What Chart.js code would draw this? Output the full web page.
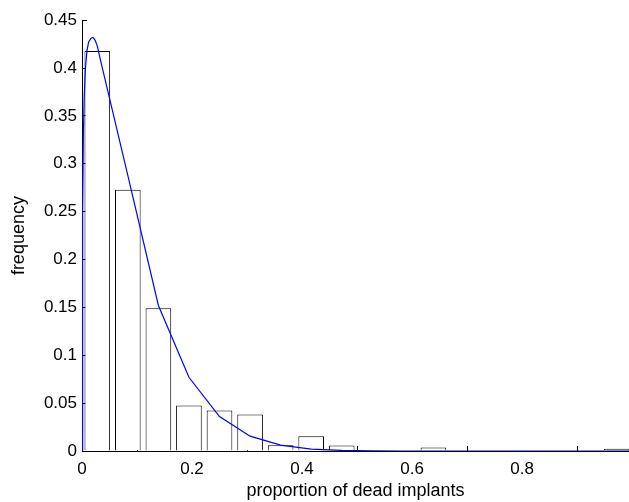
<!DOCTYPE html>
<html>
<head>
<meta charset="utf-8">
<script src="https://cdn.jsdelivr.net/npm/chart.js@4/dist/chart.umd.min.js"></script>
<style>
  html, body { margin: 0; padding: 0; overflow: hidden; background: #fff; }
  #wrap { width: 629px; height: 502px; }
</style>
</head>
<body>
<div id="wrap"><canvas id="c" width="629" height="502"></canvas></div>
<script>
// Histogram bins (centres) and relative frequencies
const binCenters = [0.0278, 0.0833, 0.1389, 0.1944, 0.25, 0.3056, 0.3611, 0.4167, 0.4722,
                    0.5278, 0.5833, 0.6389, 0.6944, 0.75, 0.8056, 0.8611, 0.9167, 0.9722];
const frequencies = [0.4177, 0.273, 0.149, 0.0475, 0.0423, 0.038, 0.006, 0.0153, 0.0057,
                     0, 0, 0.0036, 0, 0, 0, 0, 0, 0.0023];

// Fitted density curve (scaled)
const curveX = [0, 0.0008, 0.0015, 0.0025, 0.004, 0.006, 0.009, 0.012, 0.016, 0.02, 0.024,
                0.0278, 0.035, 0.0833, 0.1389, 0.1944, 0.25, 0.3056, 0.3611, 0.4167, 0.4722,
                0.5278, 0.5833, 0.7, 0.8, 0.9, 1.0];
const curveY = [0, 0.15, 0.25, 0.33, 0.37, 0.398, 0.418, 0.427, 0.431, 0.432, 0.429,
                0.423, 0.405, 0.288, 0.152, 0.077, 0.036, 0.0155, 0.0062, 0.002, 0.0006,
                0.0001, 0, 0, 0, 0, 0];

// Tick values / labels
const xTicks = [0, 0.2, 0.4, 0.6, 0.8, 1];
const xTickLabels = ['0', '0.2', '0.4', '0.6', '0.8', '1'];
const yTicks = [0, 0.05, 0.1, 0.15, 0.2, 0.25, 0.3, 0.35, 0.4, 0.45];
const yTickLabels = ['0', '0.05', '0.1', '0.15', '0.2', '0.25', '0.3', '0.35', '0.4', '0.45'];

const xTitle = 'proportion of dead implants';
const yTitle = 'frequency';

// visible x range (the axis runs to 1, just past the right edge of the picture)
const xMin = 0, xMax = 0.9945;

Chart.defaults.color = '#000';
Chart.defaults.font.family = '"Liberation Sans", Arial, sans-serif';

new Chart(document.getElementById('c'), {
  type: 'bar',
  data: {
    datasets: [
      {
        type: 'line',
        data: curveX.map((x, i) => ({ x: x, y: curveY[i] })),
        borderColor: '#0000ff',
        borderWidth: 1.2,
        pointRadius: 0,
        tension: 0,
        fill: false,
        order: 0
      },
      {
        type: 'bar',
        data: binCenters.map((x, i) => ({ x: x, y: frequencies[i] })),
        backgroundColor: '#ffffff',
        borderColor: '#000000',
        borderWidth: 1,
        barPercentage: 0.84,
        categoryPercentage: 1,
        order: 1
      }
    ]
  },
  options: {
    responsive: false,
    animation: false,
    devicePixelRatio: 1,
    layout: { padding: { left: 0, right: 0, top: 17, bottom: 0 } },
    plugins: { legend: { display: false }, tooltip: { enabled: false } },
    scales: {
      x: {
        type: 'linear',
        min: xMin, max: xMax,
        offset: false,
        afterBuildTicks: s => { s.ticks = xTicks.filter(v => v <= xMax).map(v => ({ value: v })); },
        afterFit: s => { s.height = 51; },
        ticks: {
          font: { size: 17 },
          padding: 13,
          maxRotation: 0,
          autoSkip: false,
          callback: (v, i) => xTickLabels[xTicks.indexOf(v)]
        },
        grid: { drawOnChartArea: false, drawTicks: true, tickLength: -5, color: '#000' },
        border: { display: true, color: '#000', width: 1 },
        title: { display: true, text: xTitle, font: { size: 18 }, padding: { top: 0, bottom: 0 } }
      },
      y: {
        type: 'linear',
        min: 0, max: 0.45,
        afterBuildTicks: s => { s.ticks = yTicks.map(v => ({ value: v })); },
        afterFit: s => { s.width = 82; },
        ticks: {
          font: { size: 17 },
          padding: 10,
          autoSkip: false,
          callback: (v, i) => yTickLabels[i]
        },
        grid: { drawOnChartArea: false, drawTicks: true, tickLength: -5, color: '#000' },
        border: { display: true, color: '#000', width: 1 },
        title: { display: true, text: yTitle, font: { size: 18 }, padding: { top: 8, bottom: 0 } }
      }
    }
  }
});
</script>
</body>
</html>
